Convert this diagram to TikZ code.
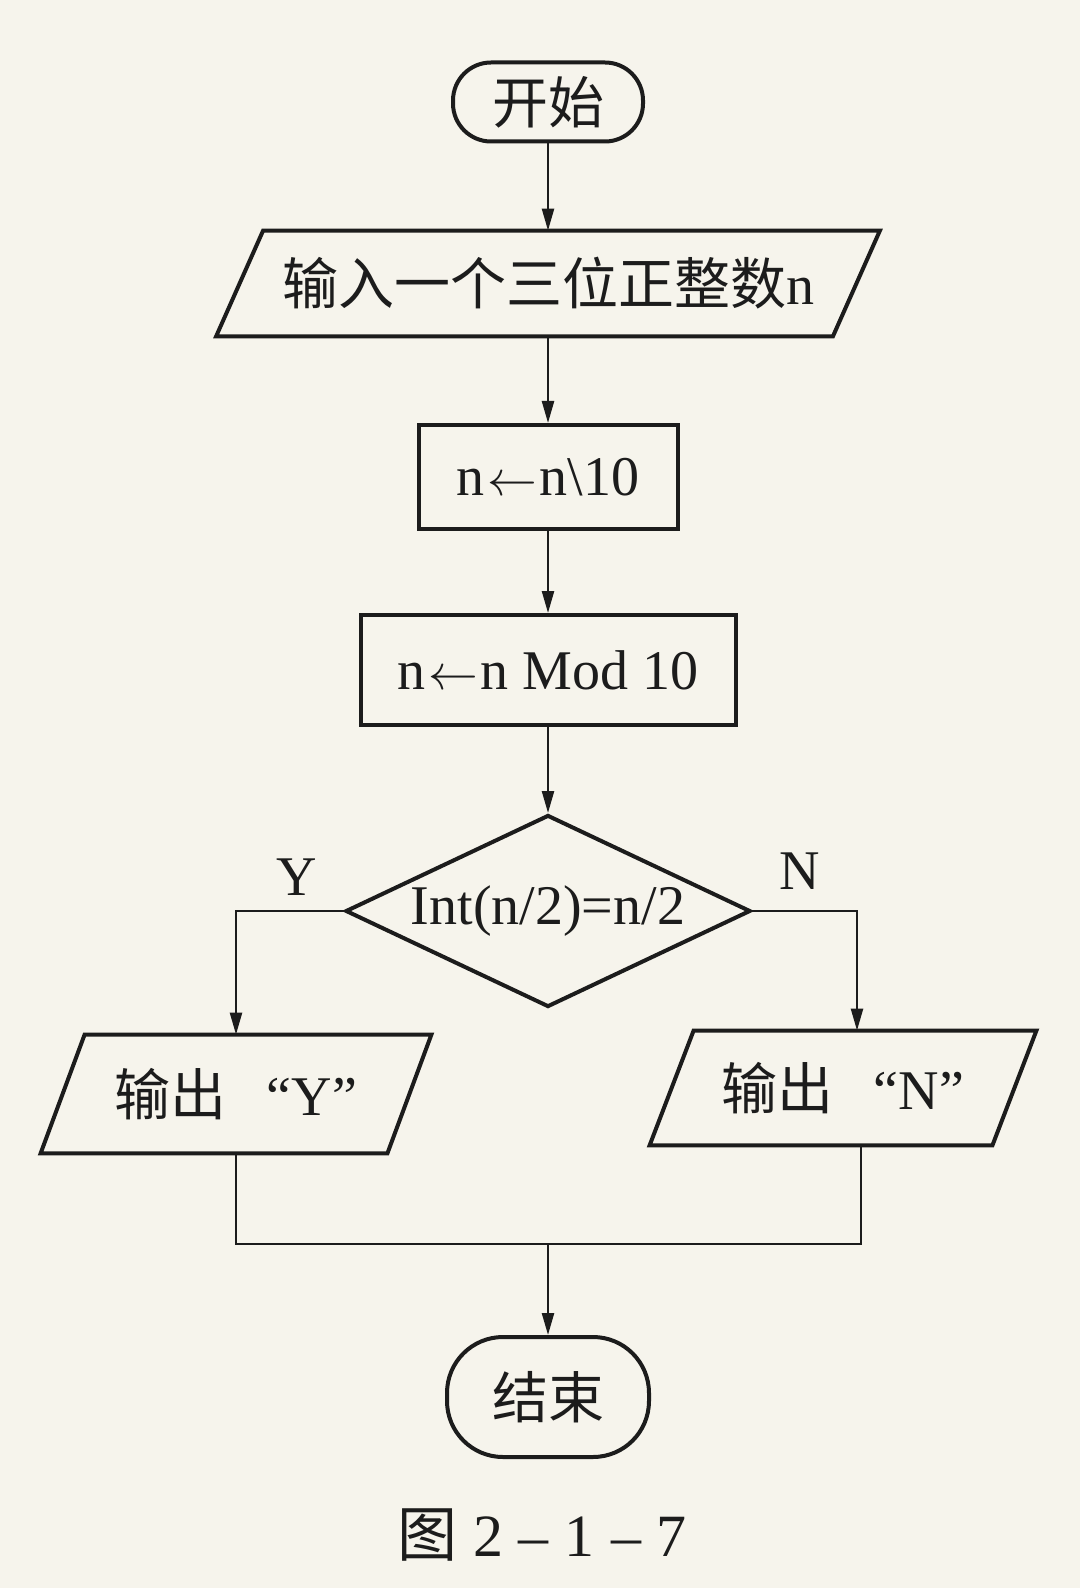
\documentclass[tikz,border=0pt]{standalone}
\usepackage{fontspec}
\setmainfont{Liberation Serif}
\newfontfamily\cjk{Noto Sans CJK SC}
\usetikzlibrary{arrows.meta,shapes.geometric,calc}
\definecolor{paper}{RGB}{246,244,236}
\definecolor{ink}{RGB}{28,28,28}
\newcommand\drawpara[2]{\draw[shapeline] ($(#1.north west)+(#2,0)$) -- ($(#1.north east)+(#2,0)$) -- ($(#1.south east)-(#2,0)$) -- ($(#1.south west)-(#2,0)$) -- cycle;}
\newcommand\larr{\ensuremath{\mkern1mu\leftarrow\mkern1mu}}
\begin{document}
\begin{tikzpicture}[x=0.5pt,y=-0.5pt,
  shapeline/.style={draw=ink,line width=2pt},
  txt/.style={font=\fontsize{28pt}{34pt}\selectfont, text=ink, inner sep=0pt},
  term/.style={txt, shapeline, rectangle},
  procbox/.style={txt, shapeline, rectangle},
  iobox/.style={txt, rectangle},
  diam/.style={txt, shapeline, shape=diamond, aspect=2.11},
  lbl/.style={txt},
  flow/.style={draw=ink, line width=1.2pt, -{Triangle[length=11pt,width=6pt]}},
  link/.style={draw=ink, line width=1.2pt}
]
\fill[paper] (0,0) rectangle (1080,1588);
\useasboundingbox (0,0) rectangle (1080,1588);

% nodes
\node[term, minimum width=95pt, minimum height=39.5pt, rounded corners=19pt] (start) at (548,102) {\cjk 开始};
\node[iobox, minimum width=308pt, minimum height=52.5pt] (in) at (548,283.5) {{\cjk 输入一个三位正整数}n};
\drawpara{in}{23.5}
\node[procbox, minimum width=129.5pt, minimum height=52pt] (b1) at (548,477) {n\larr n\textbackslash 10};
\node[procbox, minimum width=187.5pt, minimum height=55pt] (b2) at (548,670) {n\larr n Mod 10};
\node[diam, minimum width=202.5pt, minimum height=96pt] (d) at (548,911) {Int(n/2)=n/2};
\node[iobox, minimum width=173pt, minimum height=59pt] (outY) at (236,1094) {{\cjk 输出}\hspace{20pt}“Y”};
\drawpara{outY}{22}
\node[iobox, minimum width=171pt, minimum height=57pt] (outN) at (843,1088) {{\cjk 输出}\hspace{20pt}“N”};
\drawpara{outN}{22}
\node[term, minimum width=101pt, minimum height=60pt, rounded corners=28pt] (end) at (548,1397) {\cjk 结束};
\coordinate (m) at (548,1244);

% labels
\node[lbl] (ly) at (297,877) {Y};
\node[lbl] (ln) at (800,871) {N};
\node[lbl, font=\fontsize{30pt}{36pt}\selectfont] (cap) at (542,1535) {{\cjk 图}\hspace{8pt}2\hspace{8pt}–\hspace{8pt}1\hspace{8pt}–\hspace{8pt}7};

% connectors
\draw[flow] (start) -- (in);
\draw[flow] (in) -- (b1);
\draw[flow] (b1) -- (b2);
\draw[flow] (b2) -- (d);
\draw[flow] (d.west) -| (outY.north);
\draw[flow] (d.east) -| ([xshift=7pt]outN.north);
\draw[link] (outY.south) |- ([xshift=9pt]outN.south |- m) -- ([xshift=9pt]outN.south);
\draw[flow] (m) -- (end);
\end{tikzpicture}
\end{document}
